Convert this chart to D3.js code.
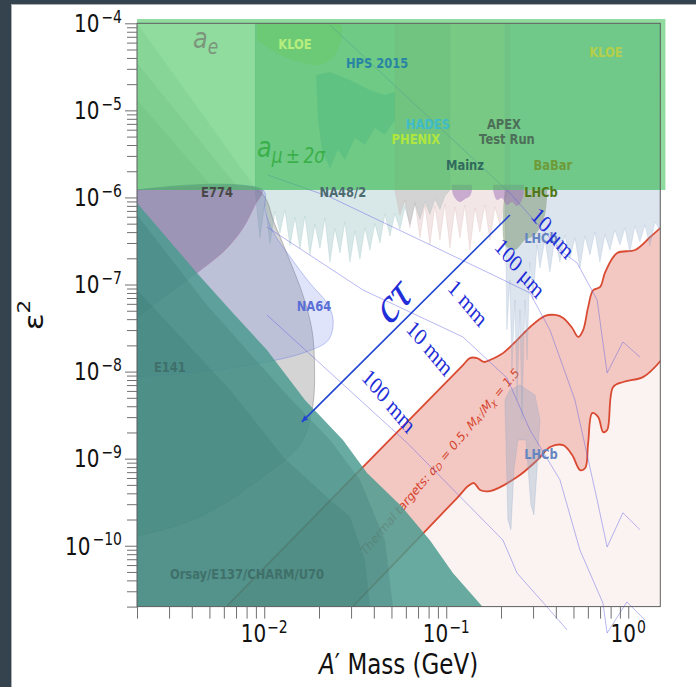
<!DOCTYPE html>
<html><head><meta charset="utf-8">
<script src="https://cdn.jsdelivr.net/npm/d3@7"></script>
<style>
html,body{margin:0;padding:0;background:#34434d;}
svg{display:block;}
</style></head><body>
<svg id="chart" width="696" height="687"></svg>
<script>
// ---------------- axes ----------------
const xDomain = [0.002, 1.5];
const yDomain = [2e-11, 1e-4];
const xMajorTicks = [1e-2, 1e-1, 1];
const xTickExp = ["−2", "−1", "0"];
const yMajorTicks = [1e-10, 1e-9, 1e-8, 1e-7, 1e-6, 1e-5, 1e-4];
const yTickExp = ["−10", "−9", "−8", "−7", "−6", "−5", "−4"];

// ---------------- data: [mass (GeV), epsilon^2] ----------------
const thermalUpper = [[6.24e-3,2.03e-11],[0.1236,1.19e-8],[0.1349,1.43e-8],[0.1476,1.43e-8],[0.1611,1.29e-8],[0.1738,1.36e-8],[0.205,1.63e-8],[0.245,2.30e-8],[0.289,3.25e-8],[0.349,4.36e-8],[0.397,4.47e-8],[0.439,4.13e-8],[0.492,3.17e-8],[0.531,2.50e-8],[0.565,3.0e-8],[0.602,5.5e-8],[0.641,8.6e-8],[0.701,9.4e-8],[0.747,1.39e-7],[0.869,2.30e-7],[1.09,2.49e-7],[1.32,3.51e-7],[1.52,4.57e-7]];
const thermalLower = [[0.0308,2.03e-11],[0.1146,3.53e-10],[0.1318,4.85e-10],[0.142,5.25e-10],[0.1535,4.36e-10],[0.174,4.25e-10],[0.245,6.15e-10],[0.316,9.6e-10],[0.372,1.36e-9],[0.439,1.43e-9],[0.492,1.10e-9],[0.544,7.4e-10],[0.580,7.8e-10],[0.602,1.51e-9],[0.634,3.34e-9],[0.684,3.0e-9],[0.728,2.02e-9],[0.766,2.13e-9],[0.826,6.65e-9],[0.938,7.6e-9],[1.21,8.7e-9],[1.52,1.36e-8]];

const beamDump = [[0.002,8.63e-7],[4.27e-3,1.36e-7],[6.73e-3,4.71e-8],[1.035e-2,1.77e-8],[1.674e-2,4.73e-9],[2.707e-2,1.64e-9],[3.673e-2,6.84e-10],[5.709e-2,2.80e-10],[8.135e-2,1.16e-10],[0.1088,4.85e-11],[0.157,2.03e-11],[0.165,1.5e-11],[0.002,1.5e-11]];
const beamDumpInnerA = [[0.002,6.29e-7],[4.84e-3,5.83e-8],[8.68e-3,1.47e-8],[1.334e-2,5.40e-9],[2.296e-2,1.64e-9],[3.356e-2,5.72e-10],[4.604e-2,1.16e-10],[5.09e-2,2.03e-11],[5.2e-2,1.5e-11],[0.002,1.5e-11]];
const beamDumpInnerB = [[0.002,8.66e-8],[6.5e-3,6.16e-9],[1.268e-2,1.05e-9],[2.296e-2,3.37e-10],[2.957e-2,2.15e-10],[3.575e-2,6.86e-11],[3.808e-2,2.03e-11],[3.9e-2,1.5e-11],[0.002,1.5e-11]];

const e141 = [[0.002,1.218e-6],[9.23e-3,1.218e-6],[1.145e-2,4.85e-7],[1.39e-2,1.82e-7],[1.63e-2,7.6e-8],[1.83e-2,3.0e-8],[1.89e-2,1.13e-8],[1.85e-2,4.1e-9],[1.63e-2,1.64e-9],[1.30e-2,9.6e-10],[1.01e-2,6.5e-10],[6.5e-3,3.35e-10],[4.44e-3,2.16e-10],[3.03e-3,1.6e-10],[0.002,1.30e-10]];
const e774 = [[0.002,1.218e-6],[9.73e-3,1.218e-6],[8.9e-3,8.2e-7],[7.65e-3,4.46e-7],[6.09e-3,2.48e-7],[4.27e-3,1.36e-7],[3.03e-3,7.98e-8],[0.002,4.12e-8]];
const na64 = [[0.002,1.218e-6],[9.85e-3,1.218e-6],[1.01e-2,7.15e-7],[1.12e-2,4.0e-7],[1.39e-2,2.07e-7],[1.78e-2,1.04e-7],[2.21e-2,6.13e-8],[2.39e-2,3.92e-8],[2.25e-2,2.3e-8],[1.68e-2,1.67e-8],[1.01e-2,1.28e-8],[4.44e-3,1.0e-8],[0.002,8.7e-9]];

const na48Mass = [9.47e-3,1.009e-2,1.075e-2,1.145e-2,1.220e-2,1.300e-2,1.385e-2,1.475e-2,1.571e-2,1.674e-2,1.783e-2,1.900e-2,2.024e-2,2.156e-2,2.296e-2,2.446e-2,2.606e-2,2.776e-2,2.957e-2,3.150e-2,3.356e-2,3.575e-2,3.808e-2,4.057e-2,4.322e-2,4.604e-2,4.904e-2,5.225e-2,5.566e-2,5.929e-2,6.316e-2,6.729e-2,7.168e-2,7.636e-2,8.135e-2,8.666e-2,9.232e-2,9.835e-2,0.1048];
const na48Eps = [3.43e-7,8.63e-7,2.93e-7,6.9e-7,3.9e-7,7.18e-7,2.78e-7,5.9e-7,2.6e-7,6.13e-7,2.2e-7,4.9e-7,2.6e-7,5.81e-7,1.81e-7,4.4e-7,2.3e-7,5.23e-7,1.8e-7,4.1e-7,1.95e-7,4.46e-7,2.5e-7,5.0e-7,3.0e-7,6.46e-7,3.61e-7,6.5e-7,4.3e-7,7.77e-7,4.9e-7,8.41e-7,5.6e-7,8.87e-7,6.4e-7,9.60e-7,7.3e-7,1.039e-6,1.218e-6];

const babarMass = [5.225e-2,5.566e-2,5.929e-2,6.316e-2,6.729e-2,7.168e-2,7.636e-2,8.135e-2,8.666e-2,9.232e-2,9.835e-2,0.1048,0.1116,0.1189,0.1267,0.1349,0.1438,0.1531,0.1631,0.1738,0.1851,0.1972,0.2101,0.2238];
const babarEps = [1.218e-6,6.29e-7,9.35e-7,4.46e-7,8.87e-7,3.43e-7,8.19e-7,2.85e-7,7.98e-7,3.25e-7,8.41e-7,2.63e-7,7.77e-7,3.43e-7,8.19e-7,2.49e-7,7.57e-7,4.01e-7,8.19e-7,3.25e-7,7.77e-7,4.83e-7,9.35e-7,1.218e-6];

const lhcbMass = [0.2101,0.2155,0.2238,0.2295,0.2384,0.2449,0.2540,0.2606,0.2706,0.278,0.2882,0.2994,0.3155,0.3271,0.3485,0.3712,0.3955,0.4213,0.4488,0.4781,0.5093,0.5426,0.5780,0.6157,0.6559,0.6988,0.7444,0.7930,0.8448,0.9000,0.9587,1.0213,1.088,1.159,1.235,1.315,1.401,1.493];
const lhcbEps = [1.218e-6,3.01e-8,1.13e-7,1.045e-8,6.65e-8,4.73e-9,5.10e-8,2.79e-9,6.65e-8,1.36e-8,1.81e-7,6.65e-8,2.85e-7,1.55e-7,3.25e-7,1.39e-7,3.43e-7,1.81e-7,3.71e-7,2.01e-7,3.43e-7,1.55e-7,3.61e-7,2.19e-7,4.01e-7,1.81e-7,3.71e-7,2.49e-7,4.23e-7,2.85e-7,4.46e-7,2.36e-7,4.70e-7,3.08e-7,4.83e-7,2.78e-7,5.23e-7,4.23e-7];
const lhcbLower = [[0.2101,4.73e-9],[0.2182,1.99e-10],[0.2267,1.53e-10],[0.2354,7.45e-10],[0.2475,1.64e-9],[0.2741,1.64e-9],[0.2919,2.95e-10],[0.3032,2.27e-10],[0.3155,7.45e-10],[0.3271,2.79e-9],[0.3071,5.40e-9],[0.2540,7.03e-9],[0.2238,6.16e-9]];
const lhcbPrompt = [[0.2101,1.218e-6],[0.2101,2.85e-7],[0.2384,2.49e-7],[0.2706,3.25e-7],[0.3071,3.71e-7],[0.3485,6.29e-7],[0.359,1.218e-6]];
const purpleBlobA = [[0.1075,1.4e-6],[0.1075,1.218e-6],[0.1116,9.86e-7],[0.1189,8.87e-7],[0.1267,9.60e-7],[0.1349,1.039e-6],[0.1384,1.218e-6],[0.1384,1.4e-6]];
const purpleBlobB = [[0.181,1.4e-6],[0.181,1.218e-6],[0.1901,9.35e-7],[0.2022,9.86e-7],[0.2158,8.19e-7],[0.2295,8.87e-7],[0.2449,7.98e-7],[0.2606,9.35e-7],[0.2673,1.218e-6],[0.2673,1.4e-6]];

const hps = [[1.925e-2,2.55e-5],[2.296e-2,2.76e-5],[2.957e-2,2.234e-5],[3.808e-2,1.715e-5],[4.604e-2,1.503e-5],[5.225e-2,1.627e-5],[5.225e-2,7.75e-6],[4.604e-2,5.21e-6],[4.057e-2,6.27e-6],[3.575e-2,4.00e-6],[3.150e-2,4.82e-6],[2.776e-2,2.69e-6],[2.541e-2,3.51e-6],[2.296e-2,2.14e-6],[2.076e-2,3.51e-6],[1.974e-2,7.75e-6]];
const kloe = [[9.12e-3,1e-4],[2.606e-2,1e-4],[2.446e-2,4.33e-5],[2.024e-2,3.32e-5],[1.571e-2,3.59e-5],[1.220e-2,4.33e-5],[9.12e-3,6.43e-5]];
const greenUnder = [[8.9e-3,1e-4],[1.5,1e-4],[1.5,1.218e-6],[8.9e-3,1.218e-6]];
const leftStripes = [
  [[0.002,1e-4],[9.12e-3,1.218e-6],[0.002,1.218e-6]],
  [[0.002,3.50e-5],[7.35e-3,1.218e-6],[0.002,1.218e-6]],
  [[0.002,1.315e-5],[5.36e-3,1.218e-6],[0.002,1.218e-6]]
];
const greenBand = {m0: 0.002, m1: 1.6, e0: 1.218e-6, e1: 1.12e-4};

const ctauLines = [
  [[2.296e-2,9.56e-5],[0.2238,1.125e-6],[0.439,2.31e-7],[0.5236,1.77e-7],[0.6745,6.65e-8],[0.7656,9.66e-9],[0.935,2.19e-8],[1.159,1.47e-8]],
  [[1.048e-2,1.81e-6],[2.296e-2,1.012e-6],[7.168e-2,3.25e-7],[0.1901,1.224e-7],[0.2882,8.0e-8],[0.3712,3.01e-8],[0.5093,4.73e-9],[0.6745,3.37e-10],[0.7656,9.67e-11],[0.935,2.39e-10],[1.159,1.53e-10]],
  [[1.035e-2,4.58e-7],[3.486e-2,8.66e-8],[0.1235,2.50e-8],[0.2155,8.47e-9],[0.2882,2.14e-9],[0.4213,5.72e-10],[0.5426,8.93e-11],[0.7258,2.20e-11],[0.7656,9.95e-12],[0.9833,2.26e-11],[1.235,1.40e-11]],
  [[1.035e-2,4.47e-8],[6.095e-2,1.52e-9],[0.2049,1.16e-10],[0.2449,4.85e-11],[0.3581,1.98e-11],[0.4613,1.08e-11]]
];
const ctauArrow = [[0.2238,6.29e-7],[1.611e-2,2.65e-9]];
const ctauLabels = [
  {t:"10 μm", m:0.3856, e:3.91e-7},
  {t:"100 μm", m:0.2540, e:1.55e-7},
  {t:"1 mm", m:0.1315, e:6.15e-8},
  {t:"10 mm", m:8.135e-2, e:1.87e-8},
  {t:"100 mm", m:4.842e-2, e:4.61e-9}
];
const ctauTitle = {m:5.03e-2, e:6.65e-8};
const thermalLabelPos = {m:9.232e-2, e:9.2e-10};

const expLabels = [
  {t:"KLOE", m:1.475e-2, e:5.79e-5, c:"#b6ee7e"},
  {t:"HPS 2015", m:4.169e-2, e:3.50e-5, c:"#2a84a4"},
  {t:"HADES", m:7.93e-2, e:6.97e-6, c:"#3fbcc8"},
  {t:"PHENIX", m:6.815e-2, e:4.69e-6, c:"#b0e63e"},
  {t:"APEX", m:0.2075, e:6.97e-6, c:"#4d6e58"},
  {t:"Test Run", m:0.2155, e:4.69e-6, c:"#4d6e58"},
  {t:"Mainz", m:0.1267, e:2.36e-6, c:"#306b5e"},
  {t:"BaBar", m:0.3856, e:2.36e-6, c:"#6e9a3a"},
  {t:"KLOE", m:0.7539, e:4.68e-5, c:"#b5cf4a"},
  {t:"E774", m:5.5e-3, e:1.155e-6, c:"#484848"},
  {t:"NA48/2", m:2.707e-2, e:1.155e-6, c:"#4b6b70"},
  {t:"LHCb", m:0.3313, e:1.155e-6, c:"#4f7818"},
  {t:"LHCb", m:0.3313, e:3.43e-7, c:"#6585c0"},
  {t:"NA64", m:1.876e-2, e:5.68e-8, c:"#5b6fd6"},
  {t:"E141", m:3.03e-3, e:1.13e-8, c:"#3f706a"},
  {t:"LHCb", m:0.3313, e:1.14e-9, c:"#6585c0"},
  {t:"Orsay/E137/CHARM/U70", m:8.04e-3, e:4.72e-11, c:"#3f706a"}
];
const aeLabel = {m:4.06e-3, e:5.2e-5};
const amuLabel = {m:9.12e-3, e:2.91e-6};

// ---------------- drawing ----------------
const svg = d3.select("#chart");
const x = d3.scaleLog().domain(xDomain).range([137, 660.3]);
const y = d3.scaleLog().domain(yDomain).range([606.6, 23.3]);
const X0 = x.range()[0], X1 = x.range()[1], Y0 = y.range()[0], Y1 = y.range()[1];

svg.append("rect").attr("x",0).attr("y",0).attr("width",696).attr("height",687).attr("fill","#34434d");
svg.append("rect").attr("x",11.5).attr("y",4.5).attr("width",690).attr("height",690).attr("fill","#ffffff").attr("stroke","#a9afb2");

svg.append("defs").append("clipPath").attr("id","plotclip").append("rect")
  .attr("x",X0).attr("y",Y1).attr("width",X1-X0).attr("height",Y0-Y1);

const lin = d3.line().x(d=>x(d[0])).y(d=>y(d[1]));
const smooth = d3.line().x(d=>x(d[0])).y(d=>y(d[1])).curve(d3.curveCatmullRom.alpha(0.5));
const zip = (ms, es) => ms.map((m,i)=>[m, es[i]]);

const plot = svg.append("g").attr("clip-path","url(#plotclip)");
function poly(g, data, fill, op, o={}) {
  const gen = o.smooth ? smooth : lin;
  return g.append("path").attr("d", gen(data)+"Z").attr("fill",fill).attr("fill-opacity",op)
    .attr("stroke", o.stroke||"none").attr("stroke-opacity", o.sop==null?1:o.sop).attr("stroke-width", o.sw||1);
}

// light pink region below thermal targets
const lowerD = smooth(thermalLower);
const last = thermalLower[thermalLower.length-1];
plot.append("path")
  .attr("d", lowerD + "L" + x(1.7) + "," + y(last[1]) + "L" + x(1.7) + "," + y(1e-11) + "L" + x(thermalLower[0][0]) + "," + y(1e-11) + "Z")
  .attr("fill","#fbf3f1");
// thermal band
plot.append("path")
  .attr("d", smooth(thermalUpper) + smooth(thermalLower.slice().reverse()).replace(/^M/,"L") + "Z")
  .attr("fill","#f3c8c2");
plot.append("path").attr("d", smooth(thermalUpper)).attr("fill","none").attr("stroke","#da4a32").attr("stroke-width",1.8);
plot.append("path").attr("d", lowerD).attr("fill","none").attr("stroke","#da4a32").attr("stroke-width",1.8);

function stext(parent, px, py, rot) {
  return parent.append("g").attr("transform", `translate(${px},${py}) scale(1,1.2) rotate(${rot||0})`).append("text");
}
// thermal label
{
  const t = stext(plot, x(thermalLabelPos.m), y(thermalLabelPos.e), -44.5)
    .attr("text-anchor","middle").attr("dominant-baseline","central")
    .attr("font-family","DejaVu Sans").attr("font-size",11).attr("fill","#d6442e");
  t.append("tspan").text("Thermal targets: ");
  t.append("tspan").attr("font-style","italic").text("α");
  t.append("tspan").attr("font-size",8).attr("dy",2.5).attr("font-style","italic").text("D");
  t.append("tspan").attr("dy",-2.5).text(" = 0.5, ");
  t.append("tspan").attr("font-style","italic").text("M");
  t.append("tspan").attr("font-size",8).attr("dy",2.5).attr("font-style","italic").text("A′");
  t.append("tspan").attr("dy",-2.5).text("/");
  t.append("tspan").attr("font-style","italic").text("M");
  t.append("tspan").attr("font-size",8).attr("dy",2.5).attr("font-style","italic").text("χ");
  t.append("tspan").attr("dy",-2.5).text(" = 1.5");
}

// underlays inside the green band
poly(plot, greenUnder, "#3caa50", 0.3);
leftStripes.forEach(s => poly(plot, s, "#5f7a70", 0.13));
poly(plot, kloe, "#b4e860", 0.5, {smooth:true});
poly(plot, hps, "#2a8aa0", 0.3);

// spiky experimental regions
poly(plot, [[8.9e-3,1e-4],[8.9e-3,1.218e-6], ...zip(na48Mass, na48Eps), [0.1048,1e-4]], "#7fb0b0", 0.3, {stroke:"#7fb0b0", sop:0.35, sw:0.6});
poly(plot, [[5.225e-2,1e-4], ...zip(babarMass, babarEps), [0.2238,1e-4]], "#c88c8c", 0.22, {stroke:"#c08888", sop:0.25, sw:0.6});
poly(plot, [[0.2101,1e-4], ...zip(lhcbMass, lhcbEps), [1.5,1e-4]], "#8aa5c8", 0.3, {stroke:"#8aa5c8", sop:0.35, sw:0.6});
poly(plot, lhcbLower, "#8aa5c8", 0.32, {stroke:"#8aa5c8", sop:0.45, sw:0.6});
poly(plot, lhcbPrompt, "#6b8a5a", 0.45, {smooth:true});
poly(plot, purpleBlobA, "#a070b8", 0.5, {smooth:true});
poly(plot, purpleBlobB, "#a070b8", 0.5, {smooth:true});

// ctau lines (not clipped)
const linesG = svg.append("g");
ctauLines.forEach(l => linesG.append("path").attr("d", lin(l)).attr("fill","none")
  .attr("stroke","#5a5ae6").attr("stroke-opacity",0.55).attr("stroke-width",0.8));

// E141, E774, NA64
poly(plot, e141, "#707070", 0.3, {smooth:true, stroke:"#555", sop:0.35});
poly(plot, e774, "#7a5a7a", 0.45, {smooth:true, stroke:"#c07fa0", sop:0.5});
poly(plot, na64, "#6478e6", 0.2, {smooth:true, stroke:"#6478e6", sop:0.4});

// beam dumps
poly(plot, beamDump, "#4b9b90", 0.84);
poly(plot, beamDumpInnerA, "#2d6b64", 0.2);
poly(plot, beamDumpInnerB, "#2d6b64", 0.18);

// green band (not clipped)
svg.append("rect").attr("x", x(greenBand.m0)).attr("y", y(greenBand.e1))
  .attr("width", x(greenBand.m1)-x(greenBand.m0)).attr("height", y(greenBand.e0)-y(greenBand.e1))
  .attr("fill","#3fc35a").attr("fill-opacity",0.58);

// spines
const sp = svg.append("g").attr("stroke","#5e5e5e").attr("stroke-width",1).attr("fill","none");
sp.append("rect").attr("x",X0).attr("y",Y1).attr("width",X1-X0).attr("height",Y0-Y1);

// ticks
function minorTicks(dom){ const out=[]; [1e-12,1e-11,1e-10,1e-9,1e-8,1e-7,1e-6,1e-5,1e-4,1e-3,1e-2,1e-1,1].forEach(d=>{for(let k=2;k<=9;k++){const v=k*d; if(v>=dom[0]*0.999 && v<=dom[1]*1.001) out.push(v);}}); return out; }
const axX = svg.append("g").attr("transform",`translate(0,${Y0})`);
axX.append("g").call(d3.axisBottom(x).tickValues(xMajorTicks).tickSize(12).tickFormat(""));
axX.append("g").call(d3.axisBottom(x).tickValues(minorTicks(xDomain)).tickSize(12).tickFormat(""));
const axY = svg.append("g").attr("transform",`translate(${X0},0)`);
axY.append("g").call(d3.axisLeft(y).tickValues(yMajorTicks).tickSize(12).tickFormat(""));
axY.append("g").call(d3.axisLeft(y).tickValues(minorTicks(yDomain)).tickSize(10).tickFormat(""));
svg.selectAll(".domain").remove();
svg.selectAll(".tick line").attr("stroke","#707070").attr("stroke-width",1);

// tick labels
xMajorTicks.forEach((v,i)=>{
  const t = stext(svg, x(v), 633.5, 0).attr("text-anchor","middle").attr("y",7.3)
    .attr("font-family","DejaVu Sans").attr("font-size",20).attr("fill","#111");
  t.append("tspan").text("10");
  t.append("tspan").attr("font-size",14).attr("dy",-7.6).attr("dx",1).text(xTickExp[i]);
});
yMajorTicks.forEach((v,i)=>{
  const t = stext(svg, 122, y(v), 0).attr("text-anchor","end").attr("y",7.3)
    .attr("font-family","DejaVu Sans").attr("font-size",20).attr("fill","#111");
  t.append("tspan").text("10");
  t.append("tspan").attr("font-size",14).attr("dy",-7.6).attr("dx",2).text(yTickExp[i]);
});
// axis titles
{
  const t = stext(svg, (X0+X1)/2, 664, 0).attr("text-anchor","middle").attr("y",8.6)
    .attr("font-family","DejaVu Sans").attr("font-size",23).attr("fill","#111");
  t.append("tspan").attr("font-style","italic").text("A");
  t.append("tspan").text("′ Mass (GeV)");
  const u = stext(svg, 34, (Y0+Y1)/2, -90).attr("text-anchor","middle").attr("dominant-baseline","central")
    .attr("font-family","DejaVu Sans").attr("font-size",26).attr("fill","#111");
  u.append("tspan").text("ε");
  u.append("tspan").attr("font-size",18).attr("dy",-10).text("2");
}

// experiment labels
expLabels.forEach(L=>{
  stext(svg, x(L.m), y(L.e), 0).attr("text-anchor","middle").attr("dominant-baseline","central")
    .attr("font-family","DejaVu Sans").attr("font-weight","bold").attr("font-size",11.5)
    .attr("fill",L.c).text(L.t);
});
{
  const t = stext(svg, x(aeLabel.m), y(aeLabel.e), 0).attr("font-family","DejaVu Sans").attr("font-style","italic")
    .attr("font-size",24).attr("fill","#7c957c");
  t.append("tspan").text("a");
  t.append("tspan").attr("font-size",17).attr("dy",5).text("e");
  const u = stext(svg, x(amuLabel.m), y(amuLabel.e), 0).attr("font-family","DejaVu Sans").attr("font-style","italic")
    .attr("font-size",24).attr("fill","#3bb04a");
  u.append("tspan").text("a");
  u.append("tspan").attr("font-size",17).attr("dy",5).text("μ\u2009±\u20092σ");
}

// ctau arrow and labels
svg.append("defs").append("marker").attr("id","ah").attr("viewBox","0 -5 10 10").attr("refX",9).attr("refY",0)
  .attr("markerWidth",7).attr("markerHeight",7).attr("markerUnits","userSpaceOnUse").attr("orient","auto")
  .append("path").attr("d","M0,-4L10,0L0,4Z").attr("fill","#2246d2");
svg.append("path").attr("d", lin(ctauArrow)).attr("stroke","#2246d2").attr("stroke-width",1.6)
  .attr("fill","none").attr("marker-end","url(#ah)");
stext(svg, x(ctauTitle.m), y(ctauTitle.e), -45).attr("text-anchor","middle").attr("dominant-baseline","central")
  .attr("font-family","Liberation Serif").attr("font-style","italic").attr("font-size",42).attr("fill","#1f2ed8").text("cτ");
ctauLabels.forEach(L=>{
  stext(svg, x(L.m), y(L.e), 45).attr("text-anchor","middle").attr("dominant-baseline","central")
    .attr("font-family","Liberation Serif").attr("font-size",20).attr("fill","#1f2ed8").text(L.t);
});
</script>
</body></html>
